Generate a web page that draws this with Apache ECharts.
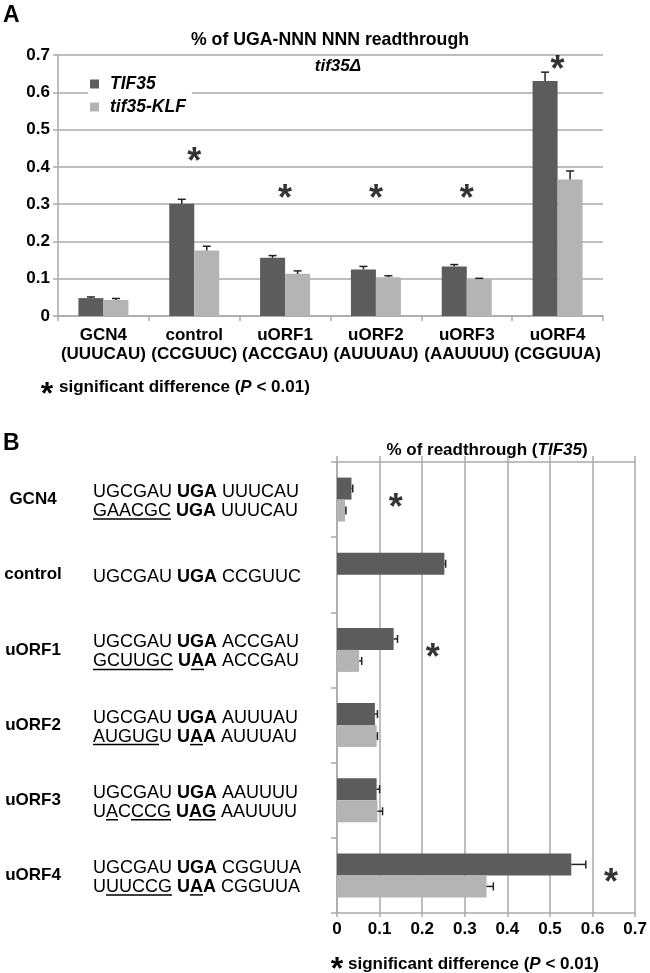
<!DOCTYPE html>
<html>
<head>
<meta charset="utf-8">
<script src="https://cdn.jsdelivr.net/npm/echarts@6/dist/echarts.min.js"></script>
<style>html,body{margin:0;padding:0;background:#fff}#main{width:650px;height:973px}</style>
</head>
<body>
<div id="main"></div>
<script>
var FONT = 'Arial, "Liberation Sans", sans-serif';
var DARK = '#5c5c5c', LIGHT = '#b4b4b4', GRIDC = '#a9a9a9';

// panel A : % of UGA-NNN NNN readthrough
var catA = ['GCN4\n(UUUCAU)', 'control\n(CCGUUC)', 'uORF1\n(ACCGAU)', 'uORF2\n(AUUUAU)', 'uORF3\n(AAUUUU)', 'uORF4\n(CGGUUA)'];
var tifA = [0.048, 0.301, 0.156, 0.125, 0.133, 0.630];
var tifA_err = [0.003, 0.012, 0.006, 0.008, 0.005, 0.024];
var klfA = [0.043, 0.176, 0.113, 0.104, 0.099, 0.366];
var klfA_err = [0.004, 0.011, 0.008, 0.004, 0.002, 0.023];
var starA = [null, 0.435, 0.335, 0.335, 0.335, 0.68];

// panel B : % of readthrough (TIF35)
var catB = ['GCN4', 'control', 'uORF1', 'uORF2', 'uORF3', 'uORF4'];
var tifB = [0.034, 0.252, 0.133, 0.089, 0.093, 0.550];
var tifB_err = [0.003, 0.003, 0.009, 0.006, 0.007, 0.034];
var klfB = [0.019, null, 0.052, 0.093, 0.095, 0.351];
var klfB_err = [0.002, null, 0.006, 0.002, 0.012, 0.016];
var starB = [0.138, null, 0.225, null, null, 0.643];

var seqB = [
    [['UGCGAU', 'UGA', 'UUUCAU'], ['GAACGC', 'UGA', 'UUUCAU']],
    [['UGCGAU', 'UGA', 'CCGUUC']],
    [['UGCGAU', 'UGA', 'ACCGAU'], ['GCUUGC', 'UAA', 'ACCGAU']],
    [['UGCGAU', 'UGA', 'AUUUAU'], ['AUGUGU', 'UAA', 'AUUUAU']],
    [['UGCGAU', 'UGA', 'AAUUUU'], ['UACCCG', 'UAG', 'AAUUUU']],
    [['UGCGAU', 'UGA', 'CGGUUA'], ['UUUCCG', 'UAA', 'CGGUUA']]
];
// underlined parts of the 2nd line: [token, from, to]
var ulB = [
    [[0, 0, 6]],
    [],
    [[0, 0, 6], [1, 1, 2]],
    [[0, 0, 5], [1, 1, 2]],
    [[0, 1, 2], [0, 3, 6], [1, 1, 3]],
    [[0, 1, 6], [1, 1, 2]]
];

var myChart = echarts.init(document.getElementById('main'));

function errV(off) {
    return function (params, api) {
        var p0 = api.coord([api.value(0), api.value(1)]);
        var p1 = api.coord([api.value(0), api.value(1) + api.value(2)]);
        var x = p0[0] + off;
        var ls = {stroke: '#222', lineWidth: 1.5};
        return {type: 'group', children: [
            {type: 'line', shape: {x1: x, y1: p0[1], x2: x, y2: p1[1]}, style: ls},
            {type: 'line', shape: {x1: x - 4, y1: p1[1], x2: x + 4, y2: p1[1]}, style: ls}
        ]};
    };
}
function errH(off) {
    return function (params, api) {
        var p0 = api.coord([api.value(0), api.value(1)]);
        var p1 = api.coord([api.value(0) + api.value(2), api.value(1)]);
        var y = p0[1] + off;
        var ls = {stroke: '#222', lineWidth: 1.5};
        return {type: 'group', children: [
            {type: 'line', shape: {x1: p0[0], y1: y, x2: p1[0], y2: y}, style: ls},
            {type: 'line', shape: {x1: p1[0], y1: y - 4, x2: p1[0], y2: y + 4}, style: ls}
        ]};
    };
}
function pairsV(v, e) {
    var out = [];
    v.forEach(function (x, i) { if (x != null) out.push([i, x, e[i]]); });
    return out;
}
function pairsH(v, e) {
    var out = [];
    v.forEach(function (x, i) { if (x != null) out.push([x, i, e[i]]); });
    return out;
}

var axisLine = {show: true, lineStyle: {color: GRIDC, width: 1.5}};
var lbl = {color: '#000', fontWeight: 'bold', fontSize: 17, fontFamily: FONT};
var starLabel = {show: true, position: 'inside', formatter: '*', color: '#000',
    fontSize: 36, fontWeight: 'bold', fontFamily: FONT, offset: [0, 9]};

var option = {
    backgroundColor: '#fff',
    animation: false,
    legend: {
        data: ['TIF35', 'tif35-KLF'],
        orient: 'vertical', left: 88, top: 70,
        icon: 'rect', itemWidth: 9, itemHeight: 9, itemGap: 5,
        backgroundColor: '#fff', padding: [5, 6, 5, 2],
        textStyle: {color: '#000', fontSize: 17.5, fontWeight: 'bold', fontStyle: 'italic',
            fontFamily: FONT, padding: [0, 0, 0, 6]}
    },
    grid: [
        {left: 58, right: 47, top: 55, bottom: 657},
        {left: 337, right: 13, top: 462, bottom: 60}
    ],
    xAxis: [
        {type: 'category', gridIndex: 0, data: catA, axisLine: axisLine,
            axisTick: {show: true, length: 5, lineStyle: {color: GRIDC, width: 1.5}},
            axisLabel: Object.assign({lineHeight: 19, margin: 10, interval: 0}, lbl)},
        {type: 'value', gridIndex: 1, min: 0, max: 0.7, interval: 0.1, position: 'bottom',
            axisLine: axisLine, axisTick: {show: true, length: 4, lineStyle: {color: GRIDC, width: 1.5}},
            splitLine: {show: true, lineStyle: {color: GRIDC, width: 1.5}},
            axisLabel: Object.assign({margin: 8}, lbl)},
        {type: 'value', gridIndex: 1, min: 0, max: 0.7, interval: 0.1, position: 'top',
            axisLine: axisLine, axisTick: {show: true, length: 6, lineStyle: {color: GRIDC, width: 1.5}},
            splitLine: {show: false}, axisLabel: {show: false}}
    ],
    yAxis: [
        {type: 'value', gridIndex: 0, min: 0, max: 0.7, interval: 0.1,
            axisLine: axisLine, axisTick: {show: true, length: 5, lineStyle: {color: GRIDC, width: 1.5}},
            splitLine: {show: true, lineStyle: {color: GRIDC, width: 1.5}},
            axisLabel: Object.assign({margin: 8}, lbl)},
        {type: 'category', gridIndex: 1, data: catB, inverse: true, axisLine: axisLine,
            axisTick: {show: true, length: 6, lineStyle: {color: GRIDC, width: 1.5}},
            axisLabel: Object.assign({margin: 304, align: 'center', interval: 0}, lbl)}
    ],
    series: [
        {name: 'TIF35', type: 'bar', xAxisIndex: 0, yAxisIndex: 0, data: tifA,
            barWidth: 25, barGap: '0%', itemStyle: {color: DARK}},
        {name: 'tif35-KLF', type: 'bar', xAxisIndex: 0, yAxisIndex: 0, data: klfA,
            barWidth: 25, barGap: '0%', itemStyle: {color: LIGHT}},
        {name: 'errA1', type: 'custom', xAxisIndex: 0, yAxisIndex: 0, renderItem: errV(-12.5),
            data: pairsV(tifA, tifA_err), encode: {x: 0, y: 1}, z: 3},
        {name: 'errA2', type: 'custom', xAxisIndex: 0, yAxisIndex: 0, renderItem: errV(12.5),
            data: pairsV(klfA, klfA_err), encode: {x: 0, y: 1}, z: 3},
        {name: 'starA', type: 'scatter', xAxisIndex: 0, yAxisIndex: 0, symbolSize: 1,
            itemStyle: {color: 'rgba(0,0,0,0)'}, label: starLabel,
            data: starA.map(function (v, i) { return v == null ? null : [i, v]; }).filter(Boolean)},

        {name: 'TIF35', type: 'bar', xAxisIndex: 1, yAxisIndex: 1,
            data: tifB.map(function (v) { return v == null ? '-' : v; }),
            barWidth: 22, barGap: '0%', itemStyle: {color: DARK}},
        {name: 'tif35-KLF', type: 'bar', xAxisIndex: 1, yAxisIndex: 1,
            data: klfB.map(function (v) { return v == null ? '-' : v; }),
            barWidth: 22, barGap: '0%', itemStyle: {color: LIGHT}},
        {name: 'errB1', type: 'custom', xAxisIndex: 1, yAxisIndex: 1, renderItem: errH(-11),
            data: pairsH(tifB, tifB_err), encode: {x: 0, y: 1}, z: 3},
        {name: 'errB2', type: 'custom', xAxisIndex: 1, yAxisIndex: 1, renderItem: errH(11),
            data: pairsH(klfB, klfB_err), encode: {x: 0, y: 1}, z: 3},
        {name: 'starB', type: 'scatter', xAxisIndex: 1, yAxisIndex: 1, symbolSize: 1,
            itemStyle: {color: 'rgba(0,0,0,0)'}, label: starLabel,
            data: starB.map(function (v, i) { return v == null ? null : [v, i]; }).filter(Boolean)}
    ]
};
myChart.setOption(option);

// free text, sequences and underlines
var SEQ = 18;
var ctx = document.createElement('canvas').getContext('2d');
function tw(s, bold) {
    ctx.font = (bold ? 'bold ' : '') + SEQ + 'px ' + FONT;
    return ctx.measureText(s).width;
}
function txt(x, y, s, o) {
    return {type: 'text', x: x, y: y, style: Object.assign({text: s, fill: '#000', fontSize: 17,
        fontWeight: 'bold', fontFamily: FONT, align: 'left', verticalAlign: 'middle'}, o || {})};
}
var rich = {
    b: {fontSize: 17, fontWeight: 'bold', fontFamily: FONT, fill: '#000'},
    i: {fontSize: 17, fontWeight: 'bold', fontStyle: 'italic', fontFamily: FONT, fill: '#000'}
};
var g = [
    txt(3, 16, 'A', {fontSize: 23}),
    txt(3, 444, 'B', {fontSize: 23}),
    txt(330, 40, '% of UGA-NNN NNN readthrough', {align: 'center', fontSize: 17.7}),
    txt(338, 66, 'tif35\u0394', {align: 'center', fontStyle: 'italic'}),
    txt(47, 395, '*', {fontSize: 32, align: 'center'}),
    txt(59, 387, '{b|significant difference (}{i|P}{b| < 0.01)}', {rich: rich}),
    txt(487, 450, '{b|% of readthrough (}{i|TIF35}{b|)}', {rich: rich, align: 'center'}),
    txt(337, 970, '*', {fontSize: 32, align: 'center'}),
    txt(348, 964, '{b|significant difference (}{i|P}{b| < 0.01)}', {rich: rich})
];

var x0 = 93;
seqB.forEach(function (lines, c) {
    var cy = myChart.convertToPixel({yAxisIndex: 1}, catB[c]) + 2;
    lines.forEach(function (toks, li) {
        var y = lines.length === 1 ? cy : cy + (li === 0 ? -9.5 : 9.5);
        var xs = [];
        var x = x0;
        toks.forEach(function (t, k) {
            var bold = k === 1;
            xs.push(x);
            g.push(txt(x, y, t, {fontWeight: bold ? 'bold' : 'normal', fontSize: SEQ}));
            x += tw(t, bold) + tw(' ', false);
        });
        if (li === 1) {
            ulB[c].forEach(function (u) {
                var bold = u[0] === 1;
                var t = toks[u[0]];
                var xa = xs[u[0]] + tw(t.slice(0, u[1]), bold);
                var xb = xs[u[0]] + tw(t.slice(0, u[2]), bold);
                g.push({type: 'line', shape: {x1: xa, y1: y + 8, x2: xb, y2: y + 8},
                    style: {stroke: '#000', lineWidth: 1.5}});
            });
        }
    });
});
myChart.setOption({graphic: g});
</script>
</body>
</html>
